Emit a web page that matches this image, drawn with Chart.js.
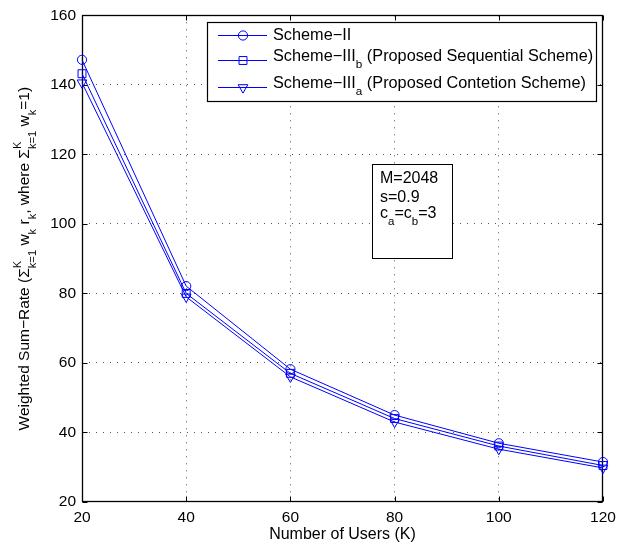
<!DOCTYPE html>
<html>
<head>
<meta charset="utf-8">
<title>Weighted Sum-Rate vs Number of Users</title>
<script src="https://cdn.jsdelivr.net/npm/chart.js@4/dist/chart.umd.min.js"></script>
<style>
  html, body { margin: 0; padding: 0; background: #fff; }
  #rateChart { display: block; }
</style>
</head>
<body>
<canvas id="rateChart" width="628" height="544"></canvas>
<script>
// number of users K on the x axis
const users = [20, 40, 60, 80, 100, 120];

// weighted sum-rate for each scheme
const schemeII = [147.2, 82.1, 58.2, 45.0, 36.9, 31.5];
const schemeIIIb = [143.2, 80.0, 57.0, 44.0, 36.1, 30.5];
const schemeIIIa = [140.6, 79.0, 56.0, 43.0, 35.2, 29.8];

// legend labels (_x = subscript)
const seriesLabels = [
    "Scheme\u2212II",
    "Scheme\u2212III_b (Proposed Sequential Scheme)",
    "Scheme\u2212III_a (Proposed Contetion Scheme)"
];

const xTicks = [20, 40, 60, 80, 100, 120];
const yTicks = [20, 40, 60, 80, 100, 120, 140, 160];

const noteLines = ["M=2048", "s=0.9", "c_a=c_b=3"];
const yTitle = "Weighted Sum\u2212Rate (\u03A3^K_{k=1} w_k r_k, where \u03A3^K_{k=1} w_k=1)";
const xTitle = "Number of Users (K)";

const FONT = "'Liberation Sans', Arial, Helvetica, sans-serif";
const BLUE = "#0000ff";
const GRID = "#555";

Chart.defaults.font.family = FONT;
Chart.defaults.color = "#000";

// split a string like "c_a=c_b=3" into plain / sub / sup pieces
function parseTex(str) {
    const out = [];
    let buf = "";
    let i = 0;
    const flush = () => { if (buf) { out.push({ t: buf, s: 0 }); buf = ""; } };
    while (i < str.length) {
        const c = str[i];
        if (c === "^" || c === "_") {
            flush();
            let grp;
            if (str[i + 1] === "{") {
                const j = str.indexOf("}", i);
                grp = str.slice(i + 2, j);
                i = j + 1;
            } else {
                grp = str[i + 1];
                i += 2;
            }
            out.push({ t: grp, s: c === "^" ? 1 : -1 });
        } else {
            buf += c;
            i++;
        }
    }
    flush();
    return out;
}

// draws (or just measures) text with sub/superscripts, baseline = middle
function drawTex(ctx, str, x, y, size, measureOnly) {
    const parts = parseTex(str);
    let cx = x;
    ctx.textBaseline = "middle";
    ctx.textAlign = "left";
    for (let k = 0; k < parts.length; k++) {
        const p = parts[k];
        if (p.s === 0) {
            ctx.font = size + "px " + FONT;
            if (!measureOnly) ctx.fillText(p.t, cx, y);
            cx += ctx.measureText(p.t).width;
        } else {
            const group = [p];
            const q = parts[k + 1];
            if (q && q.s !== 0 && q.s !== p.s) { group.push(q); k++; }
            ctx.font = (size * 0.72) + "px " + FONT;
            let w = 0;
            group.forEach(g => {
                const dy = g.s > 0 ? -size * 0.48 : size * 0.5;
                if (!measureOnly) ctx.fillText(g.t, cx, y + dy);
                w = Math.max(w, ctx.measureText(g.t).width);
            });
            cx += w;
        }
    }
    return cx - x;
}

function drawMarker(ctx, style, x, y, r) {
    ctx.beginPath();
    if (style === "circle") {
        ctx.arc(x, y, r, 0, Math.PI * 2);
    } else if (style === "rect") {
        const s = r * Math.SQRT1_2;
        ctx.rect(x - s, y - s, 2 * s, 2 * s);
    } else {
        // downward triangle
        ctx.moveTo(x, y + r);
        ctx.lineTo(x - r * 0.866, y - r * 0.5);
        ctx.lineTo(x + r * 0.866, y - r * 0.5);
        ctx.closePath();
    }
    ctx.stroke();
}

// axes box with inward tick marks on all four sides
const axesBox = {
    id: "axesBox",
    beforeDatasetsDraw(chart) {
        const { ctx, chartArea: a, scales } = chart;
        const L = Math.round(a.left) + 0.5, R = Math.round(a.right) - 0.5;
        const T = Math.round(a.top) + 0.5, B = Math.round(a.bottom) - 0.5;
        const tl = 5;
        ctx.save();
        ctx.strokeStyle = "#000";
        ctx.lineWidth = 1;
        ctx.beginPath();
        xTicks.forEach(v => {
            const px = Math.round(scales.x.getPixelForValue(v)) + 0.5;
            ctx.moveTo(px, B); ctx.lineTo(px, B - tl);
            ctx.moveTo(px, T); ctx.lineTo(px, T + tl);
        });
        yTicks.forEach(v => {
            const py = Math.round(scales.y.getPixelForValue(v)) + 0.5;
            ctx.moveTo(L, py); ctx.lineTo(L + tl, py);
            ctx.moveTo(R, py); ctx.lineTo(R - tl, py);
        });
        ctx.stroke();
        ctx.lineWidth = 1.3;
        ctx.strokeRect(L, T, R - L, B - T);
        ctx.restore();
    }
};

// legend, parameter box and rotated y title
const overlays = {
    id: "overlays",
    afterDraw(chart) {
        const { ctx } = chart;
        ctx.save();

        // legend
        ctx.fillStyle = "#fff";
        ctx.fillRect(207.5, 22.5, 389, 79);
        ctx.strokeStyle = "#000";
        ctx.lineWidth = 1.2;
        ctx.strokeRect(207.5, 22.5, 389, 79);
        const lineY = [35.5, 60.5, 87.5];
        const textY = [36, 57, 84];
        chart.data.datasets.forEach((ds, i) => {
            ctx.strokeStyle = ds.borderColor;
            ctx.lineWidth = 1;
            ctx.beginPath();
            ctx.moveTo(218, lineY[i]);
            ctx.lineTo(267, lineY[i]);
            ctx.stroke();
            drawMarker(ctx, ds.pointStyle, 243, lineY[i], ds.pointRadius);
            ctx.fillStyle = "#000";
            drawTex(ctx, ds.label, 273, textY[i], 16.3);
        });

        // parameter box
        ctx.fillStyle = "#fff";
        ctx.fillRect(372.5, 164.5, 80, 94);
        ctx.strokeStyle = "#000";
        ctx.strokeRect(372.5, 164.5, 80, 94);
        ctx.fillStyle = "#000";
        const noteY = [178.5, 198, 213.5];
        noteLines.forEach((t, i) => drawTex(ctx, t, 380, noteY[i], 16));

        // y axis title
        const a = chart.chartArea;
        ctx.translate(25, (a.top + a.bottom) / 2);
        ctx.rotate(-Math.PI / 2);
        const w = drawTex(ctx, yTitle, 0, 0, 15.5, true);
        drawTex(ctx, yTitle, -w / 2, 0, 15.5);
        ctx.restore();
    }
};

const toPoints = vals => users.map((u, i) => ({ x: u, y: vals[i] }));

const hideEdge = c => (c.tick && (c.tick.value === c.scale.min || c.tick.value === c.scale.max)) ? "rgba(0,0,0,0)" : GRID;

new Chart(document.getElementById("rateChart"), {
    type: "line",
    data: {
        datasets: [
            { label: seriesLabels[0], data: toPoints(schemeII), pointStyle: "circle", pointRadius: 4.6 },
            { label: seriesLabels[1], data: toPoints(schemeIIIb), pointStyle: "rect", pointRadius: 5.6 },
            { label: seriesLabels[2], data: toPoints(schemeIIIa), pointStyle: "triangle", pointRadius: 5.6, pointRotation: 180 }
        ].map(d => Object.assign({
            borderColor: BLUE,
            borderWidth: 1,
            pointBorderColor: BLUE,
            pointBackgroundColor: "rgba(0,0,0,0)",
            pointBorderWidth: 1,
            pointHoverRadius: 0,
            tension: 0,
            clip: false
        }, d))
    },
    options: {
        responsive: false,
        animation: false,
        events: [],
        layout: { padding: { top: 15, right: 25, left: 0, bottom: 0 } },
        plugins: {
            legend: { display: false },
            tooltip: { enabled: false }
        },
        scales: {
            x: {
                type: "linear",
                min: 20,
                max: 120,
                afterBuildTicks: s => { s.ticks = xTicks.map(v => ({ value: v })); },
                afterFit: s => { s.height = 42; },
                ticks: { padding: 6, font: { size: 15.5 }, color: "#000" },
                grid: { color: hideEdge, lineWidth: 1, drawTicks: false },
                border: { display: false, dash: [1, 6] },
                title: { display: true, text: xTitle, font: { size: 16 }, padding: { top: 0, bottom: 0 }, color: "#000" }
            },
            y: {
                min: 20,
                max: 160,
                afterBuildTicks: s => { s.ticks = yTicks.map(v => ({ value: v })); },
                afterFit: s => { s.width = 82; },
                ticks: { padding: 6, font: { size: 15.5 }, color: "#000" },
                grid: { color: hideEdge, lineWidth: 1, drawTicks: false },
                border: { display: false, dash: [1, 6] }
            }
        }
    },
    plugins: [axesBox, overlays]
});
</script>
</body>
</html>
